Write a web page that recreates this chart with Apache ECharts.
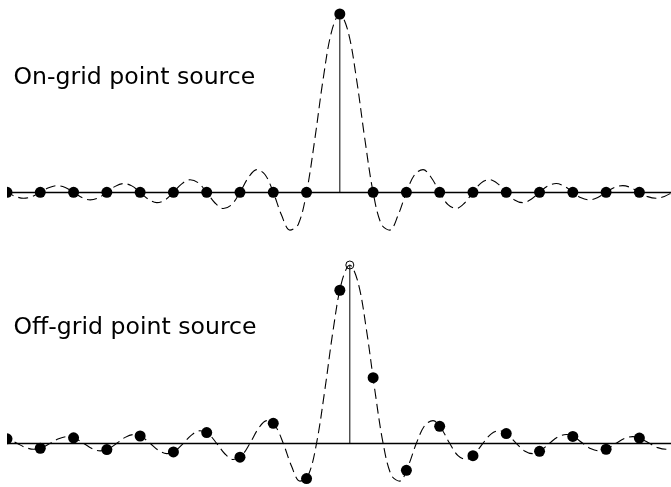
<!DOCTYPE html>
<html>
<head>
<meta charset="utf-8">
<script src="https://cdn.jsdelivr.net/npm/echarts@6/dist/echarts.min.js"></script>
<style>
  html, body { margin: 0; padding: 0; background: #fff; }
  #chart { width: 671px; height: 487px; }
</style>
</head>
<body>
<div id="chart"></div>
<script>
// sample positions (integer grid)
const sampleX = [-10, -9, -8, -7, -6, -5, -4, -3, -2, -1, 0, 1, 2, 3, 4, 5, 6, 7, 8, 9];

// on-grid samples: only the centre one is non zero
const onGridVals = [0, 0, 0, 0, 0, 0, 0, 0, 0, 0, 1, 0, 0, 0, 0, 0, 0, 0, 0, 0];

// off-grid samples
const offGridVals = [0.025, -0.0277, 0.031, -0.0353, 0.0409, -0.0486, 0.0599, -0.078, 0.112, -0.1981,
  0.8584, 0.3679, -0.1515, 0.0954, -0.0696, 0.0548, -0.0452, 0.0384, -0.0334, 0.0296];

// dashed continuous curve, sampled every 0.25
const curveX = [-10.5, -10.25, -10, -9.75, -9.5, -9.25, -9, -8.75, -8.5, -8.25, -8, -7.75, -7.5, -7.25, -7, -6.75,
  -6.5, -6.25, -6, -5.75, -5.5, -5.25, -5, -4.75, -4.5, -4.25, -4, -3.75, -3.5, -3.25, -3, -2.75, -2.5, -2.25,
  -2, -1.75, -1.5, -1.25, -1, -0.75, -0.5, -0.25, 0, 0.25, 0.5, 0.75, 1, 1.25, 1.5, 1.75, 2, 2.25, 2.5, 2.75,
  3, 3.25, 3.5, 3.75, 4, 4.25, 4.5, 4.75, 5, 5.25, 5.5, 5.75, 6, 6.25, 6.5, 6.75, 7, 7.25, 7.5, 7.75, 8, 8.25,
  8.5, 8.75, 9, 9.25, 9.5, 9.75, 10, 10.25, 10.5];
const curveVals = [0.0303, 0.022, 0, -0.0231, -0.0335, -0.0243, 0, 0.0257, 0.0374, 0.0273, 0, -0.029, -0.0424, -0.031, 0, 0.0333,
  0.049, 0.036, 0, -0.0391, -0.0579, -0.0429, 0, 0.0474, 0.0707, 0.053, 0, -0.06, -0.0909, -0.0693, 0, 0.0818, 0.1273, 0.1,
  0, -0.1286, -0.2122, -0.1801, 0, 0.3001, 0.6366, 0.9003, 1, 0.9003, 0.6366, 0.3001, 0, -0.1801, -0.2122, -0.1286, 0, 0.1, 0.1273, 0.0818,
  0, -0.0693, -0.0909, -0.06, 0, 0.053, 0.0707, 0.0474, 0, -0.0429, -0.0579, -0.0391, 0, 0.036, 0.049, 0.0333, 0, -0.031, -0.0424, -0.029, 0, 0.0273,
  0.0374, 0.0257, 0, -0.0243, -0.0335, -0.0231, 0, 0.022, 0.0303];

// source positions
const onGridCenter = 0;
const offGridCenter = 0.3;

const labels = ['On-grid point source', 'Off-grid point source'];

const PX = 178.3; // pixels per unit in y
const LEFT = 7;
function panelGrid(baseline, ymax, ymin) {
  return { left: LEFT, right: 0, top: baseline - ymax * PX, height: (ymax - ymin) * PX };
}

const chart = echarts.init(document.getElementById('chart'), null, { renderer: 'canvas' });

const panels = [
  { baseline: 192.3, ymax: 1.078, ymin: -0.35, center: onGridCenter, vals: onGridVals },
  { baseline: 443.3, ymax: 1.08, ymin: -0.245, center: offGridCenter, vals: offGridVals }
];

const grids = [], xAxes = [], yAxes = [], series = [];
panels.forEach(function (p, i) {
  grids.push(panelGrid(p.baseline, p.ymax, p.ymin));
  xAxes.push({
    gridIndex: i, type: 'value', min: -10, max: 9.95,
    axisLine: { onZero: true, lineStyle: { color: '#000', width: 1.4 } },
    axisTick: { show: false }, axisLabel: { show: false }, splitLine: { show: false }
  });
  yAxes.push({
    gridIndex: i, type: 'value', min: p.ymin, max: p.ymax,
    axisLine: { show: false }, axisTick: { show: false }, axisLabel: { show: false }, splitLine: { show: false }
  });
  series.push({
    type: 'line', xAxisIndex: i, yAxisIndex: i, smooth: 0.35, showSymbol: false, silent: true,
    data: curveX.map((x, k) => [x + p.center, curveVals[k]]),
    lineStyle: { color: '#000', width: 1.1, type: [10, 5] }, z: 2
  });
  series.push({
    type: 'line', xAxisIndex: i, yAxisIndex: i, showSymbol: false, silent: true,
    data: [[p.center, 0], [p.center, 1]],
    lineStyle: { color: '#000', width: 1 }, z: 2
  });
  series.push({
    type: 'scatter', xAxisIndex: i, yAxisIndex: i, symbolSize: 11, silent: true,
    data: sampleX.map((x, k) => [x, p.vals[k]]),
    itemStyle: { color: '#000', opacity: 1 }, z: 3
  });
});

// open marker at the true source peak
series.push({
  type: 'scatter', xAxisIndex: 1, yAxisIndex: 1, symbolSize: 8, silent: true,
  data: [[offGridCenter, 1]],
  itemStyle: { color: 'none', borderColor: '#000', borderWidth: 1, opacity: 1 }, z: 4
});

const graphics = labels.map(function (t, i) {
  return {
    type: 'text', left: 13.5, top: 66 + i * 250,
    style: { text: t, fill: '#000', font: '23.6px "DejaVu Sans"' }
  };
});
// mask so the edge markers are cut at the plot's left border
graphics.push({
  type: 'rect', left: 0, top: 0, z: 100,
  shape: { width: LEFT, height: 487 },
  style: { fill: '#fff' }
});

chart.setOption({
  animation: false,
  backgroundColor: '#fff',
  grid: grids,
  xAxis: xAxes,
  yAxis: yAxes,
  series: series,
  graphic: graphics
});
</script>
</body>
</html>
